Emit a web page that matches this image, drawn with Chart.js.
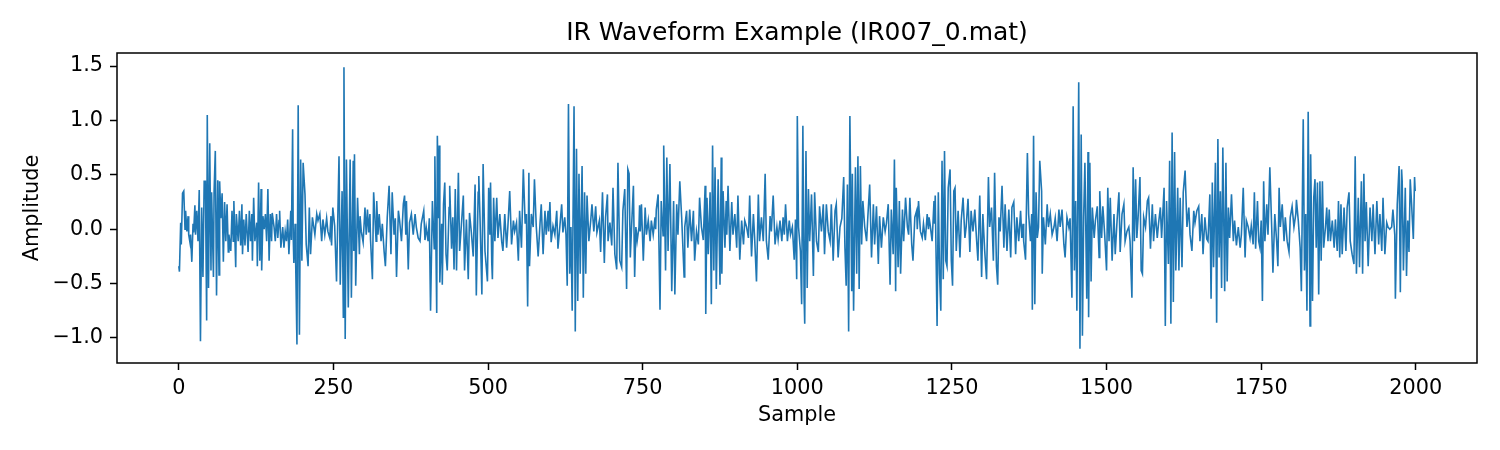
<!DOCTYPE html>
<html>
<head>
<meta charset="utf-8">
<title>IR Waveform Example</title>
<script src="https://cdn.jsdelivr.net/npm/chart.js@4.4.1/dist/chart.umd.min.js"></script>
<style>
  html, body { margin: 0; padding: 0; background: #fff; }
  #wrap { width: 1500px; height: 450px; }
</style>
</head>
<body>
<div id="wrap"><canvas id="wave" width="1500" height="450"></canvas></div>
<script>
const sampleNo = [
    0, 1, 3, 4, 6, 8, 10, 11, 13, 15,
    16, 18, 19, 21, 23, 24, 26, 27, 29, 31,
    33, 35, 37, 39, 41, 43, 45, 46, 48, 50,
    52, 53, 56, 57, 59, 61, 63, 65, 66, 68,
    70, 72, 74, 76, 78, 80, 81, 84, 86, 88,
    89, 92, 93, 96, 98, 100, 102, 103, 105, 107,
    109, 112, 114, 116, 118, 119, 121, 123, 126, 127,
    129, 131, 133, 134, 136, 138, 140, 142, 144, 146,
    148, 150, 151, 154, 156, 158, 160, 162, 163, 165,
    168, 170, 172, 174, 176, 178, 181, 182, 184, 185,
    186, 188, 189, 191, 193, 195, 197, 199, 201, 204,
    206, 209, 211, 213, 216, 220, 223, 225, 228, 231,
    233, 236, 239, 241, 244, 246, 247, 249, 252, 255,
    259, 261, 264, 266, 267, 269, 271, 274, 277, 279,
    282, 283, 284, 286, 289, 292, 293, 295, 298, 301,
    303, 305, 307, 309, 310, 313, 315, 319, 320, 322,
    324, 327, 329, 332, 334, 337, 340, 343, 345, 348,
    350, 352, 355, 357, 360, 363, 365, 367, 368, 371,
    373, 376, 379, 382, 384, 387, 390, 392, 396, 398,
    400, 403, 405, 407, 410, 413, 414, 417, 418, 420,
    421, 422, 425, 426, 428, 430, 432, 434, 437, 438,
    441, 443, 445, 447, 449, 452, 454, 457, 460, 462,
    465, 468, 470, 473, 476, 479, 481, 484, 485, 487,
    490, 492, 495, 499, 501, 503, 504, 506, 507, 509,
    511, 514, 516, 519, 522, 524, 527, 530, 532, 535,
    538, 541, 543, 546, 549, 551, 554, 557, 560, 562,
    564, 566, 567, 570, 573, 575, 578, 581, 584, 586,
    589, 592, 594, 597, 598, 600, 602, 605, 608, 611,
    613, 616, 619, 621, 624, 626, 628, 630, 632, 634,
    636, 639, 641, 643, 645, 647, 649, 652, 654, 656,
    658, 660, 663, 666, 668, 671, 674, 676, 680, 682,
    685, 688, 690, 693, 694, 697, 700, 702, 705, 708,
    710, 713, 716, 718, 721, 724, 726, 728, 730, 732,
    735, 737, 739, 741, 744, 745, 746, 748, 751, 754,
    756, 759, 762, 764, 767, 770, 771, 772, 775, 778,
    780, 783, 784, 787, 789, 791, 794, 797, 800, 802,
    805, 807, 810, 813, 817, 818, 821, 823, 826, 829,
    832, 834, 837, 840, 842, 845, 848, 851, 852, 854,
    856, 859, 861, 863, 865, 867, 869, 872, 875, 877,
    878, 880, 883, 885, 886, 888, 891, 894, 896, 899,
    902, 904, 907, 910, 913, 915, 918, 921, 923, 926,
    929, 931, 934, 937, 939, 942, 945, 948, 950, 953,
    956, 958, 961, 964, 967, 969, 972, 975, 977, 979,
    981, 984, 987, 989, 992, 995, 997, 999, 1000, 1002,
    1005, 1007, 1009, 1011, 1012, 1014, 1016, 1018, 1020, 1023,
    1026, 1028, 1031, 1034, 1036, 1039, 1042, 1044, 1047, 1050,
    1053, 1055, 1058, 1061, 1063, 1066, 1069, 1072, 1075, 1077,
    1079, 1081, 1083, 1085, 1088, 1089, 1091, 1094, 1096, 1098,
    1100, 1102, 1104, 1106, 1109, 1112, 1114, 1117, 1120, 1123,
    1125, 1128, 1131, 1133, 1136, 1139, 1142, 1144, 1147, 1150,
    1152, 1155, 1157, 1159, 1160, 1163, 1165, 1167, 1170, 1172,
    1175, 1178, 1180, 1182, 1185, 1187, 1190, 1193, 1194, 1196,
    1199, 1202, 1204, 1207, 1210, 1212, 1213, 1215, 1218, 1221,
    1222, 1223, 1226, 1228, 1230, 1232, 1234, 1236, 1238, 1240,
    1242, 1244, 1247, 1249, 1251, 1253, 1255, 1257, 1260, 1263,
    1265, 1268, 1271, 1273, 1276, 1279, 1281, 1284, 1287, 1290,
    1292, 1295, 1298, 1300, 1303, 1306, 1309, 1311, 1314, 1317,
    1319, 1322, 1324, 1326, 1328, 1331, 1334, 1336, 1339, 1342,
    1345, 1347, 1350, 1353, 1355, 1358, 1361, 1363, 1365, 1366,
    1369, 1372, 1374, 1377, 1379, 1380, 1382, 1384, 1386, 1388,
    1390, 1392, 1395, 1396, 1398, 1401, 1404, 1406, 1409, 1412,
    1415, 1417, 1420, 1423, 1425, 1428, 1431, 1433, 1436, 1439,
    1441, 1444, 1446, 1448, 1450, 1452, 1455, 1457, 1459, 1461,
    1463, 1465, 1468, 1470, 1471, 1473, 1475, 1477, 1480, 1482,
    1485, 1488, 1489, 1492, 1494, 1497, 1500, 1502, 1504, 1506,
    1509, 1512, 1514, 1517, 1520, 1522, 1525, 1528, 1530, 1533,
    1536, 1538, 1541, 1543, 1545, 1547, 1549, 1551, 1554, 1556,
    1558, 1560, 1563, 1566, 1568, 1571, 1574, 1576, 1579, 1582,
    1584, 1587, 1589, 1593, 1595, 1597, 1600, 1602, 1604, 1606,
    1608, 1610, 1612, 1615, 1617, 1619, 1622, 1624, 1627, 1630,
    1633, 1635, 1638, 1641, 1643, 1646, 1649, 1651, 1654, 1656,
    1659, 1662, 1664, 1667, 1669, 1671, 1673, 1676, 1678, 1680,
    1682, 1684, 1686, 1688, 1691, 1693, 1695, 1697, 1699, 1702,
    1705, 1707, 1710, 1713, 1716, 1718, 1721, 1724, 1726, 1729,
    1732, 1734, 1737, 1739, 1741, 1744, 1746, 1748, 1750, 1752,
    1754, 1756, 1759, 1761, 1764, 1767, 1769, 1772, 1775, 1777,
    1779, 1781, 1784, 1787, 1789, 1792, 1795, 1797, 1800, 1803,
    1806, 1807, 1810, 1813, 1815, 1818, 1820, 1822, 1824, 1826,
    1829, 1830, 1833, 1835, 1837, 1839, 1841, 1843, 1845, 1847,
    1849, 1851, 1854, 1856, 1858, 1860, 1862, 1865, 1868, 1870,
    1873, 1875, 1877, 1879, 1881, 1884, 1887, 1889, 1892, 1894,
    1897, 1900, 1902, 1904, 1907, 1909, 1912, 1914, 1916, 1918,
    1920, 1923, 1926, 1929, 1931, 1934, 1937, 1940, 1942, 1945,
    1947, 1950, 1953, 1955, 1958, 1961, 1963, 1966, 1967, 1970,
    1973, 1975, 1977, 1978, 1980, 1983, 1985, 1987, 1989, 1991,
    1993, 1996, 1998, 1999
]

const amplitude = [
    -0.34, -0.39, 0.06, -0.14, 0.33, 0.35, 0.0, 0.17, -0.02, 0.12,
    -0.05, -0.12, -0.05, -0.3, 0.05, -0.03, 0.22, -0.05, 0.17, -0.11,
    0.36, -1.03, 0.2, -0.44, 0.44, 0.44, -0.84, 1.05, -0.54, 0.79,
    -0.38, 0.34, -0.44, 0.34, 0.72, -0.61, 0.45, -0.42, 0.44, 0.1,
    0.33, -0.3, 0.25, -0.11, 0.23, -0.21, -0.05, -0.2, 0.17, -0.11,
    0.26, -0.35, 0.14, -0.11, 0.17, -0.15, 0.23, -0.23, 0.09, -0.15,
    0.14, -0.21, 0.17, -0.11, 0.14, -0.29, 0.29, -0.11, 0.06, -0.34,
    0.43, -0.29, 0.37, -0.38, 0.12, 0.0, 0.14, -0.11, 0.37, -0.29,
    0.14, -0.11, 0.15, 0.02, -0.11, 0.14, -0.08, 0.08, 0.17, -0.17,
    0.02, -0.17, -0.02, -0.11, 0.09, -0.23, 0.17, -0.1, 0.92, -0.08,
    -0.31, 0.05, -0.33, -1.06, 1.14, -0.97, 0.64, -0.29, 0.61, 0.32,
    -0.14, -0.34, 0.2, -0.23, 0.11, -0.05, 0.14, 0.08, 0.14, -0.11,
    0.09, -0.05, 0.1, -0.02, -0.08, 0.12, -0.15, 0.2, 0.03, -0.48,
    0.67, -0.51, 0.35, -0.81, 1.49, -1.01, 0.64, -0.72, 0.64, -0.63,
    0.63, -0.2, 0.69, -0.52, 0.29, -0.23, 0.12, -0.02, -0.12, 0.2,
    -0.05, 0.18, -0.03, 0.14, -0.1, -0.46, 0.34, -0.11, 0.26, -0.05,
    0.14, -0.11, 0.05, -0.21, -0.34, 0.11, 0.4, -0.23, 0.34, -0.05,
    0.1, -0.44, 0.17, 0.08, -0.11, 0.23, 0.31, -0.05, 0.26, -0.37,
    0.06, 0.14, -0.05, 0.14, 0.02, -0.08, -0.11, 0.05, 0.17, -0.1,
    0.02, -0.11, 0.1, -0.75, 0.26, -0.18, 0.67, -0.77, 0.86, 0.1,
    0.77, -0.49, 0.05, -0.51, 0.23, 0.43, -0.23, -0.38, 0.2, 0.4,
    -0.18, 0.11, -0.37, 0.37, -0.38, 0.52, -0.2, 0.05, 0.31, -0.38,
    0.09, -0.46, 0.15, -0.03, -0.25, 0.41, -0.61, 0.34, 0.49, 0.1,
    -0.6, 0.6, -0.2, -0.48, 0.38, -0.05, 0.43, -0.31, -0.46, 0.29,
    -0.11, 0.29, -0.08, 0.14, -0.11, -0.2, 0.14, -0.17, 0.02, 0.35,
    -0.14, 0.08, -0.02, 0.06, -0.29, 0.17, -0.17, 0.55, 0.05, 0.14,
    -0.71, 0.52, -0.34, 0.14, 0.02, 0.46, 0.02, -0.25, 0.05, 0.23,
    -0.23, 0.17, -0.05, 0.17, -0.02, 0.25, -0.12, 0.03, -0.05, 0.17,
    -0.18, 0.02, 0.23, -0.03, 0.11, -0.05, -0.52, 1.15, -0.41, 0.02,
    -0.75, 1.13, -0.94, 0.74, -0.66, 0.51, -0.41, 0.58, -0.63, 0.34,
    -0.41, 0.31, -0.11, 0.08, 0.23, -0.02, 0.21, -0.03, 0.08, -0.21,
    0.34, -0.31, 0.11, 0.32, -0.11, 0.06, -0.15, 0.38, -0.23, -0.37,
    0.61, -0.29, -0.35, 0.17, 0.37, -0.55, 0.55, 0.51, -0.26, 0.02,
    0.4, -0.44, 0.02, -0.11, 0.02, 0.22, -0.02, 0.23, -0.29, 0.2,
    -0.05, 0.08, -0.11, 0.08, -0.05, 0.11, 0.0, 0.18, 0.32, -0.74,
    0.26, -0.06, 0.77, -0.38, 0.66, -0.2, 0.6, -0.57, 0.26, -0.6,
    0.23, -0.05, 0.44, 0.11, -0.44, 0.02, 0.17, -0.17, 0.18, -0.11,
    0.17, -0.29, -0.02, -0.14, 0.29, 0.02, -0.1, 0.4, -0.78, 0.29,
    -0.23, 0.34, -0.69, 0.77, -0.38, 0.57, -0.55, 0.46, -0.51, 0.66,
    -0.41, 0.35, -0.17, 0.26, -0.05, 0.4, -0.2, 0.25, -0.05, 0.14,
    -0.17, 0.31, -0.28, 0.08, -0.14, 0.08, 0.02, -0.08, 0.31, -0.25,
    0.14, -0.08, -0.48, 0.32, -0.11, 0.11, -0.11, 0.51, -0.11, -0.28,
    0.12, -0.02, 0.31, -0.14, 0.02, -0.09, 0.08, -0.11, 0.11, -0.05,
    0.23, -0.11, 0.08, -0.05, 0.02, -0.28, 0.09, -0.46, 1.04, 0.02,
    -0.2, -0.69, 0.95, -0.63, -0.87, 0.72, -0.54, 0.37, -0.11, 0.32,
    -0.43, 0.34, -0.11, -0.21, 0.21, -0.02, 0.23, -0.23, 0.23, -0.02,
    -0.11, 0.23, -0.29, 0.17, 0.23, -0.26, 0.02, 0.1, 0.48, -0.17,
    -0.52, 0.41, -0.94, 1.04, -0.57, 0.51, -0.75, 0.57, -0.41, 0.67,
    -0.55, 0.58, -0.14, 0.26, 0.02, -0.11, 0.11, 0.41, -0.26, 0.23,
    -0.14, 0.21, -0.32, 0.12, -0.17, 0.11, -0.02, 0.05, 0.23, -0.51,
    0.18, -0.23, 0.64, -0.57, 0.38, -0.35, 0.26, -0.41, 0.18, -0.11,
    0.29, 0.02, -0.05, 0.29, -0.14, -0.29, 0.11, 0.17, 0.0, 0.26,
    -0.02, -0.08, 0.05, -0.1, 0.14, 0.0, 0.11, 0.03, -0.11, 0.26,
    0.05, 0.31, -0.89, 0.34, -0.41, -0.75, 0.63, -0.46, 0.72, -0.29,
    -0.34, 0.38, 0.55, -0.29, -0.52, 0.35, 0.38, -0.2, 0.17, -0.26,
    0.08, 0.29, -0.08, 0.02, 0.28, -0.21, 0.17, -0.02, 0.18, -0.11,
    -0.29, 0.31, -0.44, 0.14, -0.2, -0.46, 0.48, 0.02, 0.2, -0.29,
    0.52, -0.34, -0.51, 0.11, -0.02, 0.4, -0.17, 0.23, -0.2, 0.18,
    -0.26, 0.2, 0.25, -0.23, 0.11, -0.11, 0.17, -0.08, 0.05, -0.11,
    -0.28, 0.7, 0.14, -0.11, 0.14, -0.74, 0.86, -0.69, 0.34, -0.08,
    0.02, 0.63, 0.35, -0.41, 0.11, -0.14, 0.23, 0.02, 0.14, -0.05,
    0.02, 0.1, -0.11, 0.18, 0.02, 0.18, -0.14, -0.26, 0.11, 0.02,
    0.1, -0.63, 1.13, -0.38, 0.26, -0.75, 1.35, -1.1, 0.87, -0.98,
    0.11, 0.61, -0.64, 0.71, -0.81, 0.61, -0.48, 0.2, -0.08, 0.08,
    0.21, -0.26, 0.35, -0.08, 0.21, -0.05, -0.38, 0.38, -0.11, 0.29,
    -0.29, 0.14, -0.23, 0.08, 0.34, -0.21, 0.14, 0.23, -0.11, -0.02,
    0.02, -0.11, -0.63, 0.57, -0.11, 0.46, -0.08, 0.11, 0.48, -0.38,
    -0.41, 0.11, 0.02, 0.26, 0.29, -0.18, 0.23, -0.11, 0.14, -0.08,
    0.05, 0.2, -0.08, 0.38, -0.89, 0.26, -0.32, 0.63, -0.87, 0.89,
    -0.67, 0.71, -0.38, 0.38, -0.38, 0.29, -0.35, 0.34, 0.54, 0.02,
    0.2, -0.05, -0.2, 0.17, 0.06, 0.17, 0.21, -0.11, 0.14, -0.23,
    0.11, -0.09, -0.11, 0.32, -0.64, 0.43, -0.35, 0.61, -0.86, 0.83,
    -0.26, 0.35, -0.54, 0.75, -0.57, 0.61, -0.48, 0.2, -0.08, 0.32,
    -0.11, 0.08, -0.15, 0.02, -0.17, -0.05, 0.38, -0.26, 0.08, 0.02,
    -0.08, 0.03, -0.14, 0.34, -0.18, 0.26, -0.11, -0.17, 0.08, -0.66,
    0.44, -0.11, 0.23, -0.05, 0.57, 0.02, -0.4, 0.14, -0.11, -0.34,
    0.38, 0.02, 0.23, -0.11, 0.11, -0.11, -0.21, 0.11, 0.21, 0.02,
    0.14, 0.27, 0.08, -0.17, -0.57, 1.01, -0.38, 0.14, -0.75, 1.08,
    -0.89, 0.69, -0.66, 0.29, 0.46, -0.17, 0.43, -0.6, 0.44, -0.29,
    0.44, -0.17, 0.02, 0.2, -0.11, 0.18, -0.11, 0.08, -0.17, 0.09,
    -0.2, 0.26, -0.26, 0.23, -0.23, 0.2, -0.2, 0.2, 0.34, -0.11,
    -0.23, -0.32, 0.67, -0.41, 0.29, -0.35, 0.44, -0.41, 0.51, -0.11,
    0.25, -0.34, 0.2, -0.11, 0.23, -0.23, 0.26, -0.14, 0.14, -0.2,
    0.29, -0.23, 0.06, 0.02, 0.0, 0.02, 0.18, -0.05, -0.64, 0.23,
    0.58, -0.58, 0.55, 0.44, -0.38, 0.38, -0.43, 0.08, -0.21, 0.46,
    0.25, -0.09, 0.48, 0.35
]

const xTicks = [0, 250, 500, 750, 1000, 1250, 1500, 1750, 2000]
const yTicks = [-1.0, -0.5, 0.0, 0.5, 1.0, 1.5]
const xRange = [-99.95, 2098.95]
const yRange = [-1.23, 1.62]

if (sampleNo.length !== amplitude.length) {
    console.error('length mismatch', sampleNo.length, amplitude.length)
}

const points = sampleNo.map((s, i) => ({ x: s, y: amplitude[i] }))

// matplotlib style minus sign
function fmtY(v) {
    let s = Number(v).toFixed(1)
    return s.replace('-', '\u2212')
}

// box round the plot area, like the axes spines
const frame = {
    id: 'frame',
    afterDraw(chart) {
        let { ctx, chartArea: a } = chart
        ctx.save()
        ctx.strokeStyle = '#000'
        ctx.lineWidth = 1.5
        ctx.strokeRect(a.left, a.top, a.right - a.left, a.bottom - a.top)
        ctx.restore()
    }
}

Chart.defaults.font.family = "'DejaVu Sans', sans-serif"
Chart.defaults.color = '#000'

const tickFont = { size: 20.8 }
const tickGrid = {
    display: true,
    drawOnChartArea: false,
    drawTicks: true,
    tickLength: 7,
    tickWidth: 1.5,
    tickColor: '#000'
}

new Chart('wave', {
    type: 'line',
    data: {
        datasets: [{
            data: points,
            borderColor: '#1f77b4',
            borderWidth: 1.6,
            pointRadius: 0,
            fill: false,
            tension: 0
        }]
    },
    options: {
        responsive: false,
        animation: false,
        devicePixelRatio: 1,
        layout: { padding: { left: 0, right: 23, top: 0, bottom: 0 } },
        plugins: {
            legend: { display: false },
            tooltip: { enabled: false },
            title: {
                display: true,
                fullSize: false,
                text: 'IR Waveform Example (IR007_0.mat)',
                color: '#000',
                font: { size: 25, weight: 'normal' },
                padding: { top: 18, bottom: 5 }
            }
        },
        scales: {
            x: {
                type: 'linear',
                min: xRange[0],
                max: xRange[1],
                afterBuildTicks: s => { s.ticks = xTicks.map(v => ({ value: v })) },
                afterFit: s => {
                    s.height = 87
                    s.paddingLeft = 0
                    s.paddingRight = 0
                },
                ticks: {
                    font: tickFont,
                    padding: 6,
                    maxRotation: 0,
                    autoSkip: false,
                    callback: v => String(v)
                },
                grid: tickGrid,
                border: { display: false },
                title: {
                    display: true,
                    text: 'Sample',
                    font: { size: 20.8 },
                    padding: { top: 0, bottom: 22 }
                }
            },
            y: {
                type: 'linear',
                min: yRange[0],
                max: yRange[1],
                afterBuildTicks: s => { s.ticks = yTicks.map(v => ({ value: v })) },
                afterFit: s => {
                    s.width = 117
                    s.paddingTop = 0
                    s.paddingBottom = 0
                },
                ticks: {
                    font: tickFont,
                    padding: 7,
                    autoSkip: false,
                    callback: v => fmtY(v)
                },
                grid: tickGrid,
                border: { display: false },
                title: {
                    display: true,
                    text: 'Amplitude',
                    font: { size: 20.8 },
                    padding: { top: 20, bottom: 0 }
                }
            }
        }
    },
    plugins: [frame]
})
</script>
</body>
</html>
